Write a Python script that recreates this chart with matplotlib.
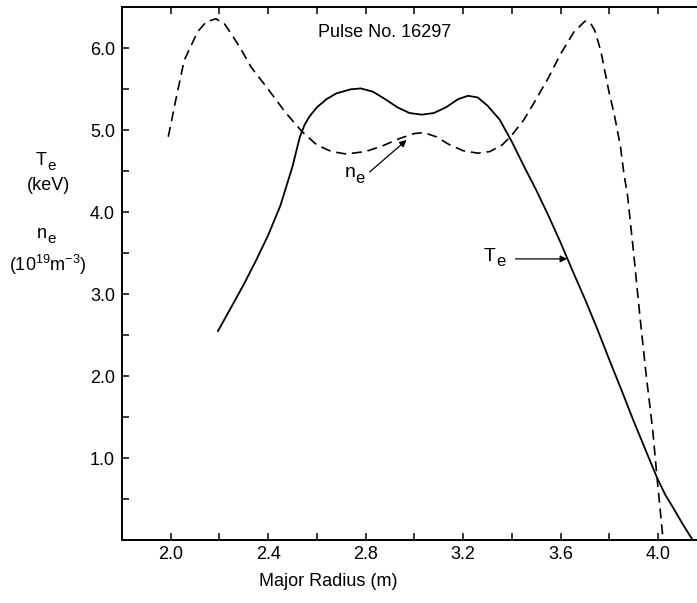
import numpy as np
import matplotlib.pyplot as plt

plt.rcParams['font.family'] = ['Liberation Sans', 'DejaVu Sans']
plt.rcParams['mathtext.fontset'] = 'custom'
plt.rcParams['mathtext.rm'] = 'Liberation Sans'
plt.rcParams['mathtext.it'] = 'Liberation Sans'

# Electron density profile (dashed), 10^19 m^-3
R_ne = [1.99, 2.02, 2.055, 2.11, 2.145, 2.185, 2.22, 2.25, 2.29, 2.33,
        2.40, 2.47, 2.54, 2.60, 2.66, 2.72, 2.80, 2.87, 2.94, 3.00,
        3.04, 3.09, 3.14, 3.20, 3.26, 3.31, 3.36, 3.40, 3.45, 3.50,
        3.55, 3.60, 3.655, 3.70, 3.72, 3.74, 3.765, 3.80, 3.82, 3.846,
        3.86, 3.875, 3.90, 3.925, 3.95, 3.978, 3.996, 4.02]
n_e = [4.92, 5.36, 5.85, 6.20, 6.32, 6.36, 6.30, 6.17, 5.98, 5.77,
       5.50, 5.22, 4.98, 4.82, 4.74, 4.71, 4.74, 4.81, 4.90, 4.96,
       4.97, 4.92, 4.83, 4.75, 4.72, 4.74, 4.82, 4.94, 5.13, 5.38,
       5.64, 5.93, 6.20, 6.33, 6.32, 6.22, 5.97, 5.45, 5.20, 4.80,
       4.47, 4.20, 3.50, 2.75, 2.05, 1.35, 0.76, 0.03]

# Electron temperature profile (solid), keV
R_Te = [2.194, 2.25, 2.30, 2.35, 2.40, 2.45, 2.50, 2.53, 2.55, 2.57,
        2.60, 2.64, 2.68, 2.74, 2.78, 2.83, 2.88, 2.93, 2.98, 3.03,
        3.08, 3.13, 3.18, 3.22, 3.26, 3.30, 3.35, 3.40, 3.45, 3.50,
        3.55, 3.60, 3.65, 3.70, 3.75, 3.80, 3.85, 3.90, 3.95, 3.996,
        4.03, 4.065, 4.10, 4.14]
T_e = [2.55, 2.85, 3.12, 3.41, 3.72, 4.08, 4.56, 4.92, 5.07, 5.17,
       5.28, 5.38, 5.45, 5.50, 5.51, 5.47, 5.38, 5.28, 5.21, 5.19,
       5.21, 5.28, 5.38, 5.42, 5.40, 5.30, 5.13, 4.86, 4.56, 4.27,
       3.96, 3.63, 3.28, 2.94, 2.58, 2.20, 1.83, 1.45, 1.09, 0.76,
       0.55, 0.38, 0.20, 0.01]

x_major = [2.0, 2.4, 2.8, 3.2, 3.6, 4.0]
y_major = [1.0, 2.0, 3.0, 4.0, 5.0, 6.0]

W, H = 697, 603
fig = plt.figure(figsize=(W / 100, H / 100), dpi=100)
ax = fig.add_axes([122 / W, 63 / H, 1 - 122 / W, (540 - 7.3) / H])

ax.plot(R_ne, n_e, color='black', lw=1.2, ls=(0, (6, 3.5)))
ax.plot(R_Te, T_e, color='black', lw=1.3)

ax.set_xlim(1.8, 4.16)
ax.set_ylim(0.0, 6.5)

ax.set_xticks(x_major)
ax.set_xticklabels([f'{v:.1f}' for v in x_major])
ax.set_xticks(np.arange(2.2, 4.2, 0.4), minor=True)
ax.set_yticks(y_major)
ax.set_yticklabels([f'{v:.1f}' for v in y_major])
ax.set_yticks(np.arange(0.5, 6.5, 1.0), minor=True)

ax.tick_params(which='both', direction='in', length=5, width=1.1,
               labelsize=13, top=True, right=False, color='black')
ax.tick_params(axis='x', pad=4)
ax.tick_params(axis='y', pad=5)

ax.spines['right'].set_visible(False)
for s in ['left', 'bottom', 'top']:
    ax.spines[s].set_linewidth(1.4)

ax.text(2.878, 6.19, 'Pulse No. 16297', fontsize=13, ha='center', va='center')


def sub_label(x, y, base, sub, size, transform, drop=-4):
    # letter with a large, dropped subscript
    t = fig.text(x, y, base, fontsize=size, ha='right', va='baseline',
                 transform=transform)
    ax.annotate(sub, xy=(x, y), xycoords=transform, xytext=(0, drop),
                textcoords='offset points', fontsize=size * 0.85,
                ha='left', va='baseline', annotation_clip=False)
    return t


# curve labels with arrows
ax.annotate('', xy=(2.968, 4.88), xytext=(2.816, 4.49),
            arrowprops=dict(arrowstyle='-|>', color='black', lw=0.9,
                            mutation_scale=10, shrinkA=0, shrinkB=0))
sub_label(2.758, 4.43, 'n', 'e', 14, ax.transData)

ax.annotate('', xy=(3.627, 3.43), xytext=(3.415, 3.43),
            arrowprops=dict(arrowstyle='-|>', color='black', lw=0.9,
                            mutation_scale=10, shrinkA=0, shrinkB=0))
sub_label(3.335, 3.41, 'T', 'e', 14, ax.transData)

# axis titles
sub_label(47 / W, 1 - 165 / H, 'T', 'e', 13, fig.transFigure, drop=-3.5)
fig.text(48 / W, 1 - 185 / H, '(keV)', fontsize=13, ha='center', va='center')
sub_label(47 / W, 1 - 238 / H, 'n', 'e', 13, fig.transFigure, drop=-3.5)
fig.text(48 / W, 1 - 265 / H, r'(10$^\mathregular{19}$m$^\mathregular{-3}$)',
         fontsize=13, ha='center', va='center')
fig.text(328 / W, 1 - 582 / H, 'Major Radius (m)', fontsize=13, ha='center', va='center')

fig.savefig('out.png', dpi=100)
